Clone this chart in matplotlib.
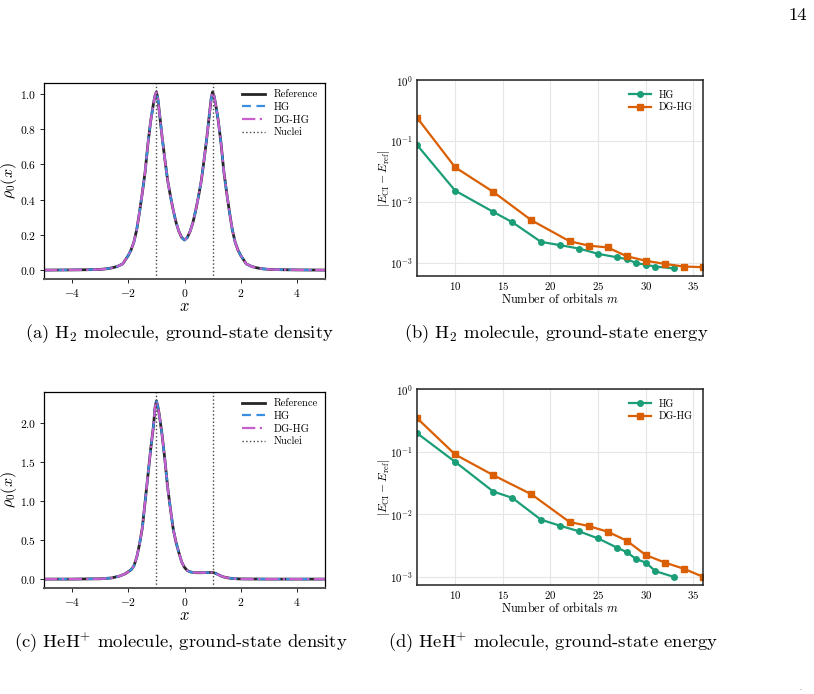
"""Ground-state density and energy convergence for H2 and HeH+ (1D model)"""

import numpy as np
import matplotlib

matplotlib.use("Agg")
import matplotlib.pyplot as plt
from matplotlib.ticker import LogLocator, LogFormatterMathtext, NullLocator

plt.rcParams["font.family"] = "serif"
plt.rcParams["font.serif"] = ["cmr10", "DejaVu Serif"]
plt.rcParams["mathtext.fontset"] = "cm"
plt.rcParams["axes.formatter.use_mathtext"] = True
plt.rcParams["axes.unicode_minus"] = True

# ---------------------------------------------------------------- data
# H2 density
h2_x = [-5.0, -4.0, -3.5, -3.0, -2.8, -2.6, -2.4, -2.2, -2.0, -1.9, -1.8, -1.7,
        -1.6, -1.5, -1.4, -1.3, -1.2, -1.1, -1.05, -1.0, -0.95, -0.9, -0.8,
        -0.7, -0.6, -0.5, -0.4, -0.3, -0.2, -0.1, 0.0, 0.1, 0.2, 0.3, 0.4, 0.5,
        0.6, 0.7, 0.8, 0.9, 0.95, 1.0, 1.05, 1.1, 1.2, 1.3, 1.4, 1.5, 1.6, 1.7,
        1.8, 1.9, 2.0, 2.2, 2.4, 2.6, 2.8, 3.0, 3.5, 4.0, 5.0]
h2_rho = [0.0, 0.001, 0.002, 0.004, 0.007, 0.012, 0.02, 0.035, 0.083, 0.115,
          0.16, 0.23, 0.33, 0.44, 0.56, 0.72, 0.85, 0.95, 0.99, 1.012, 0.975,
          0.905, 0.76, 0.63, 0.51, 0.42, 0.34, 0.27, 0.22, 0.185, 0.171, 0.185,
          0.22, 0.27, 0.34, 0.42, 0.51, 0.63, 0.76, 0.905, 0.975, 1.012, 0.99,
          0.95, 0.85, 0.72, 0.56, 0.44, 0.33, 0.23, 0.16, 0.115, 0.083, 0.035,
          0.02, 0.012, 0.007, 0.004, 0.002, 0.001, 0.0]

# HeH+ density
heh_x = [-5.0, -4.0, -3.0, -2.6, -2.3, -2.1, -1.9, -1.8, -1.7, -1.6, -1.5,
         -1.4, -1.3, -1.2, -1.1, -1.05, -1.0, -0.95, -0.9, -0.8, -0.7, -0.6,
         -0.5, -0.4, -0.3, -0.2, -0.1, 0.0, 0.1, 0.2, 0.3, 0.4, 0.6, 0.8, 0.9,
         1.0, 1.1, 1.2, 1.3, 1.4, 1.6, 1.8, 2.0, 2.5, 3.0, 4.0, 5.0]
heh_rho = [0.0, 0.0, 0.004, 0.014, 0.04, 0.07, 0.12, 0.17, 0.28, 0.45, 0.66,
           1.0, 1.34, 1.68, 1.98, 2.2, 2.29, 2.22, 2.12, 1.86, 1.54, 1.18, 0.9,
           0.64, 0.47, 0.34, 0.22, 0.15, 0.11, 0.093, 0.086, 0.082, 0.082,
           0.083, 0.085, 0.086, 0.075, 0.058, 0.04, 0.027, 0.012, 0.005, 0.002,
           0.001, 0.0, 0.0, 0.0]

nuclei = [-1.0, 1.0]

# H2 energy errors, panel (b)
h2_hg_m = [6, 10, 14, 16, 19, 21, 23, 25, 27, 28, 29, 30, 31, 33]
h2_hg_err = [0.0857, 0.0152, 0.0068, 0.0046, 0.00219, 0.00193, 0.0017,
             0.00139, 0.00122, 0.00114, 0.00098, 0.00092, 0.00086, 0.0008]
h2_dg_m = [6, 10, 14, 18, 22, 24, 26, 28, 30, 32, 34, 36]
h2_dg_err = [0.241, 0.0368, 0.0145, 0.00496, 0.00224, 0.0019, 0.00177,
             0.00127, 0.00107, 0.00095, 0.00086, 0.00084]

# HeH+ energy errors, panel (d)
heh_hg_m = [6, 10, 14, 16, 19, 21, 23, 25, 27, 28, 29, 30, 31, 33]
heh_hg_err = [0.197, 0.0686, 0.023, 0.0182, 0.00817, 0.00655, 0.00532,
              0.0041, 0.00291, 0.00248, 0.00191, 0.00169, 0.00123, 0.00099]
heh_dg_m = [6, 10, 14, 18, 22, 24, 26, 28, 30, 32, 34, 36]
heh_dg_err = [0.343, 0.0899, 0.042, 0.0208, 0.0075, 0.00647, 0.00525,
              0.00377, 0.00222, 0.00169, 0.00134, 0.001]

captions = [
    r"(a) H$_2$ molecule, ground-state density",
    r"(b) H$_2$ molecule, ground-state energy",
    r"(c) HeH$^{+}$ molecule, ground-state density",
    r"(d) HeH$^{+}$ molecule, ground-state energy",
]

W, H = 814, 694


def px_axes(fig, left, top, right, bottom):
    """axes from pixel box (top-left origin)"""
    return fig.add_axes([left / W, 1 - bottom / H, (right - left) / W, (bottom - top) / H])


def density_panel(ax, x, rho):
    ax.plot(x, rho, color="#262626", lw=2.0, label="Reference")
    ax.plot(x, rho, color="#3a8ee0", lw=1.6, ls=(0, (4, 2.5)), label="HG")
    ax.plot(x, rho, color="#c75fcf", lw=1.6, ls=(0, (6, 2, 1, 2)), label="DG-HG")
    for i, xn in enumerate(nuclei):
        ax.axvline(xn, color="#444444", lw=1.0, ls=":", label="Nuclei" if i == 0 else None)
    ax.set_xlim(-5, 5)
    ax.set_xlabel(r"$x$", fontsize=12, labelpad=0)
    ax.set_ylabel(r"$\rho_0(x)$", fontsize=11.5)
    ax.yaxis.set_label_coords(-0.088, 0.5)
    ax.tick_params(labelsize=8.3, length=3, width=0.6, pad=2.5)
    for s in ax.spines.values():
        s.set_linewidth(0.9)
    ax.spines["bottom"].set_color("#555555")
    ax.spines["bottom"].set_linewidth(1.4)
    ax.legend(loc="upper right", frameon=False, fontsize=7.6, handlelength=2.2,
              labelspacing=0.3, borderaxespad=0.25)


def energy_panel(ax, m1, e1, m2, e2):
    ax.plot(m1, e1, color="#1b9e77", lw=1.6, marker="o", ms=4, label="HG")
    ax.plot(m2, e2, color="#d95f02", lw=1.6, marker="s", ms=4, label="DG-HG")
    ax.set_yscale("log")
    ax.set_xlim(6, 36)
    ax.set_ylim(top=1.0)
    ax.yaxis.set_major_locator(LogLocator(base=10))
    ax.yaxis.set_major_formatter(LogFormatterMathtext())
    ax.yaxis.set_minor_locator(NullLocator())
    ax.set_xticks([10, 15, 20, 25, 30, 35])
    ax.grid(True, color="#e6e6e6", lw=0.8)
    ax.set_axisbelow(True)
    ax.tick_params(labelsize=7.8, length=0, pad=3)
    for s in ax.spines.values():
        s.set_linewidth(1.1)
        s.set_color("#222222")
    ax.set_xlabel(r"Number of orbitals $m$", fontsize=8.8, labelpad=0)
    ax.set_ylabel(r"$|E_{\mathrm{CI}} - E_{\mathrm{ref}}|$", fontsize=8.5)
    ax.yaxis.set_label_coords(-0.088, 0.5)
    ax.legend(loc="upper right", frameon=False, fontsize=7.2, handlelength=2.2,
              labelspacing=0.3, borderaxespad=0.6)


fig = plt.figure(figsize=(W / 100, H / 100), dpi=100)

ax_a = px_axes(fig, 44, 83, 325, 279)
density_panel(ax_a, h2_x, h2_rho)

ax_b = px_axes(fig, 417, 80, 703, 276)
energy_panel(ax_b, h2_hg_m, h2_hg_err, h2_dg_m, h2_dg_err)

ax_c = px_axes(fig, 44, 392, 325, 588)
density_panel(ax_c, heh_x, heh_rho)

ax_d = px_axes(fig, 417, 389, 703, 585)
energy_panel(ax_d, heh_hg_m, heh_hg_err, heh_dg_m, heh_dg_err)

# captions and page furniture
cap_pos = [(179, 334), (556, 334), (181, 643), (553, 643)]
for (cx, cy), txt in zip(cap_pos, captions):
    fig.text(cx / W, 1 - cy / H, txt, ha="center", va="center", fontsize=13.4)
fig.text(798 / W, 1 - 15 / H, "14", ha="center", va="center", fontsize=13.4)
fig.text(800 / W, 1 - 688 / H, ".", ha="center", va="center", fontsize=5)

fig.savefig("out.png", dpi=100)
